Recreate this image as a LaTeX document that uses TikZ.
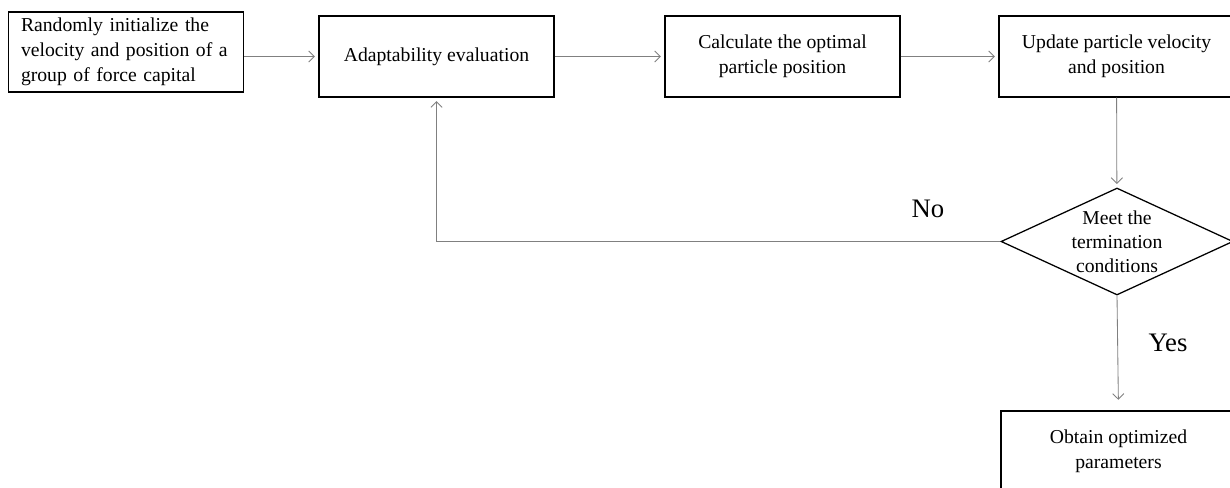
\documentclass[tikz,border=0pt]{standalone}
\usepackage{fontspec}
\setmainfont{Liberation Serif}
\usetikzlibrary{shapes.geometric,arrows.meta}

\begin{document}
\begin{tikzpicture}[
    stepbox/.style={rectangle, draw, line width=0.9pt, minimum width=5.875cm, minimum height=2.025cm, align=center, font=\fontsize{14}{17.8}\selectfont},
    decision/.style={diamond, draw, line width=0.9pt, minimum width=5.8cm, minimum height=2.675cm, inner sep=0pt},
    link/.style={draw=gray, line width=0.6pt, -{Straight Barb[length=4pt,width=8pt]}, shorten >=2.5pt},
    answer/.style={font=\fontsize{19}{22}\selectfont}
]
    \useasboundingbox (0,0) rectangle (30.75,-12.175);

    % Draw nodes
    \node[stepbox, minimum height=2.0cm, inner xsep=0.3cm, text width=5.25cm, align=left] (init) at (3.15,-1.3) {Randomly initialize the\\velocity and position of a\\group of force capital};
    \node[stepbox] (eval) at (10.9125,-1.4125) {Adaptability evaluation};
    \node[stepbox] (best) at (19.5625,-1.4125) {Calculate the optimal\\particle position};
    \node[stepbox] (update) at (27.9125,-1.4125) {Update particle velocity\\and position};
    \node[decision] (cond) at (27.925,-6.0375) {};
    \node[align=center, font=\fontsize{14}{17}\selectfont] (condtext) at (cond) {Meet the\\termination\\conditions};
    \node[stepbox] (result) at (27.9625,-11.2875) {Obtain optimized\\parameters};

    % Draw connections
    \draw[link] (init.east |- eval) -- (eval);
    \draw[link] (eval) -- (best);
    \draw[link] (best) -- (update);
    \draw[link] (update) -- (cond);
    \draw[link] (cond.west) -| (eval.south);
    \draw[link, shorten >=7.5pt] (cond.south) -- (result.north);

    % Labels
    \node[answer] (no) at (23.2,-5.225) {No};
    \node[answer] (yes) at (29.2,-8.575) {Yes};
\end{tikzpicture}
\end{document}
